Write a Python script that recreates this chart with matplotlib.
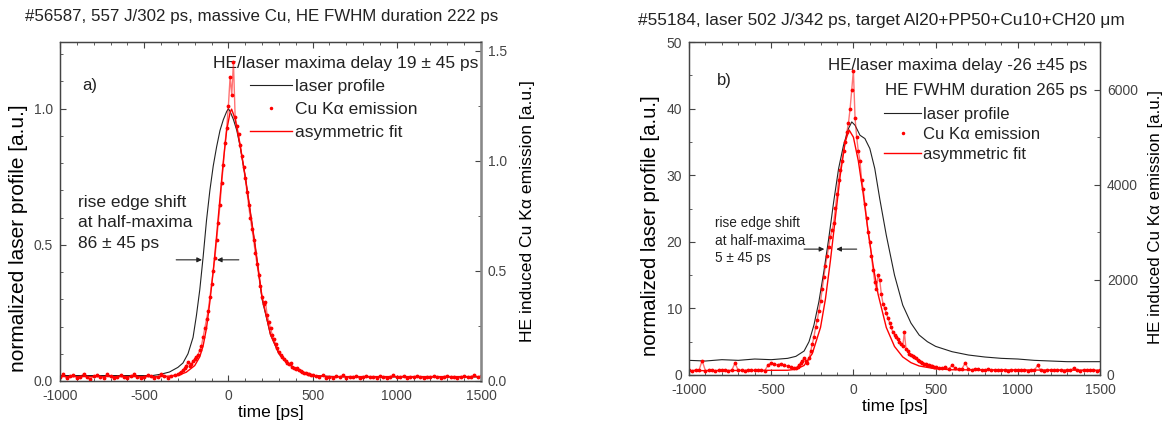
import matplotlib as mpl
mpl.use('Agg')
import matplotlib.pyplot as plt
from matplotlib.lines import Line2D
import numpy as np

plt.rcParams['font.family'] = ['Liberation Sans', 'DejaVu Sans']
plt.rcParams['text.color'] = '#222222'
plt.rcParams['axes.unicode_minus'] = False

# ---------------- panel a) #56587 ----------------
# laser profile (normalized, left axis)
tLaserA = [-1000, -900, -800, -700, -600, -500, -450, -400, -350, -300, -270, -240, -210, -190,
           -170, -150, -130, -110, -90, -70, -50, -30, -10, 0, 10, 30, 50, 70, 100, 130, 160,
           200, 250, 300, 350, 400, 450, 500, 600, 700, 800, 900, 1000, 1100, 1200, 1300, 1400, 1500]
laserA = [0.02, 0.02, 0.02, 0.02, 0.02, 0.02, 0.02, 0.025, 0.033, 0.05, 0.066, 0.10, 0.16, 0.24,
          0.335, 0.456, 0.59, 0.70, 0.79, 0.86, 0.92, 0.96, 0.99, 1.0, 0.99, 0.96, 0.92, 0.86, 0.75,
          0.62, 0.49, 0.30, 0.17, 0.10, 0.065, 0.045, 0.03, 0.02, 0.017, 0.015, 0.015, 0.015, 0.015,
          0.015, 0.015, 0.015, 0.015, 0.015]

# Cu K-alpha emission (right axis), sampled every 20 ps outside / 10 ps inside the pulse
cuA_left = [0.020, 0.030, 0.012, 0.022, 0.028, 0.015, 0.020, 0.032, 0.018, 0.010,
            0.022, 0.026, 0.020, 0.014, 0.030, 0.022, 0.012, 0.020, 0.026, 0.018,
            0.015, 0.022, 0.030, 0.020, 0.014, 0.020, 0.026, 0.022, 0.012, 0.020,
            0.030, 0.024, 0.015, 0.022, 0.028]
cuA_mid = [0.030, 0.035, 0.040, 0.050, 0.060, 0.070, 0.085, 0.070, 0.075, 0.090,
           0.100, 0.110, 0.120, 0.140, 0.160, 0.200, 0.240, 0.280, 0.320, 0.380,
           0.440, 0.500, 0.560, 0.640, 0.720, 0.800, 0.900, 0.980, 1.080, 1.150,
           1.250, 1.380, 1.300, 1.450, 1.200, 1.160, 1.120, 1.070, 1.020, 0.970,
           0.920, 0.860, 0.800, 0.740, 0.690, 0.640, 0.580, 0.530, 0.480, 0.430,
           0.380, 0.350, 0.360, 0.300, 0.270, 0.240, 0.210, 0.190, 0.170, 0.150,
           0.130, 0.120, 0.110, 0.100, 0.090, 0.080, 0.075, 0.080, 0.065, 0.060,
           0.055, 0.060, 0.050, 0.045, 0.040, 0.035, 0.035, 0.030, 0.030, 0.025,
           0.025]
cuA_right = [0.022, 0.018, 0.025, 0.015, 0.020, 0.012, 0.022, 0.018, 0.026, 0.015,
             0.020, 0.016, 0.022, 0.012, 0.018, 0.024, 0.016, 0.020, 0.014, 0.022,
             0.018, 0.012, 0.020, 0.025, 0.016, 0.018, 0.022, 0.014, 0.020, 0.016,
             0.024, 0.018, 0.012, 0.020, 0.016, 0.022, 0.018, 0.014, 0.020, 0.024,
             0.016, 0.020, 0.012, 0.018, 0.022, 0.016, 0.020, 0.026, 0.018, 0.022]

# asymmetric fit (right axis)
tFitA = [-1000, -400, -300, -250, -200, -170, -150, -130, -110, -90, -70, -50, -30, -10, 10, 19,
         40, 70, 100, 130, 160, 200, 250, 300, 350, 400, 450, 500, 600, 1500]
fitA = [0.02, 0.02, 0.025, 0.04, 0.07, 0.11, 0.16, 0.24, 0.36, 0.50, 0.66, 0.83, 1.00, 1.14, 1.22,
        1.235, 1.19, 1.07, 0.93, 0.77, 0.61, 0.38, 0.21, 0.125, 0.08, 0.055, 0.035, 0.025, 0.02, 0.02]

# ---------------- panel b) #55184 ----------------
tLaserB = [-1000, -900, -800, -700, -600, -500, -400, -350, -300, -270, -240, -210, -180, -150,
           -120, -90, -60, -30, -10, 10, 40, 70, 100, 130, 160, 200, 250, 300, 350, 400, 450, 500,
           600, 700, 800, 900, 1000, 1100, 1200, 1300, 1400, 1500]
laserB = [2.2, 2.1, 2.3, 2.2, 2.4, 2.3, 2.5, 2.8, 3.6, 5, 7.5, 11, 15.5, 20.5,
          26, 31, 34.5, 37, 38, 37.5, 36, 35.5, 34, 31, 26.5, 21, 15, 10.5, 7.8, 6, 5, 4.3,
          3.5, 3, 2.7, 2.5, 2.4, 2.2, 2.1, 2.0, 2.0, 2.0]

cuB_left = [100, 90, 110, 95, 300, 90, 100, 105, 85, 100,
            95, 110, 90, 100, 250, 95, 100, 90, 105, 100,
            95, 110, 100, 90, 200, 260, 230, 210, 240, 200,
            190, 170, 150]
cuB_mid = [150, 160, 200, 250, 300, 350, 300, 250, 350, 500,
           650, 800, 1000, 1150, 1350, 1550, 1800, 2050, 2300, 2500,
           2700, 2900, 3050, 3200, 3500, 3800, 4100, 4300, 4500, 4700,
           4900, 5100, 5300, 5600, 6000, 6400, 5400, 5000, 4700, 4500,
           4100, 3900, 3600, 3300, 3000, 2800, 2500, 2200, 1950, 1800,
           2100, 2000, 1700, 1500, 1400, 1300, 1200, 1100, 1000, 900,
           850, 800, 750, 700, 650, 600, 900, 550, 500, 450,
           420, 400, 380, 350, 320, 300, 280, 260, 240, 230,
           220, 200, 190, 180, 170, 160]
cuB_right = [150, 140, 160, 130, 200, 140, 120, 130, 250, 120,
             110, 130, 120, 100, 110, 120, 100, 110, 95, 100,
             110, 90, 100, 105, 95, 100, 110, 90, 100, 95,
             200, 100, 90, 105, 100, 95, 110, 100, 90, 100,
             95, 150, 100, 90, 105, 100, 95, 100, 90, 100]

tFitB = [-1000, -400, -350, -300, -250, -200, -170, -140, -110, -80, -50, -26, 0, 30, 60, 90,
         120, 150, 200, 250, 300, 350, 400, 500, 600, 1500]
fitB = [90, 100, 120, 200, 450, 1000, 1600, 2400, 3300, 4200, 4900, 5150, 5000, 4500, 3800, 3000,
        2300, 1700, 1000, 600, 380, 260, 190, 130, 110, 100]

# sampling grid of the K-alpha streak data
tCuA = np.concatenate([np.arange(-1000, -319, 20), np.arange(-300, 501, 10), np.arange(520, 1501, 20)])
tCuB = np.concatenate([np.arange(-1000, -359, 20), np.arange(-350, 501, 10), np.arange(520, 1501, 20)])
cuA = cuA_left + cuA_mid + cuA_right
cuB = cuB_left + cuB_mid + cuB_right

W, H = 1167, 425
fig = plt.figure(figsize=(W / 100, H / 100), dpi=100)
labels = ['laser profile', 'Cu K\u03b1 emission', 'asymmetric fit']


def setup(ax, axr, ylim, yr_lim, ymaj, ymin, yrmaj, yrmin):
    ax.set_xlim(-1000, 1500)
    ax.set_ylim(*ylim)
    axr.set_ylim(*yr_lim)
    ax.xaxis.set_major_locator(mpl.ticker.MultipleLocator(500))
    ax.xaxis.set_minor_locator(mpl.ticker.MultipleLocator(100))
    ax.yaxis.set_major_locator(mpl.ticker.MultipleLocator(ymaj))
    ax.yaxis.set_minor_locator(mpl.ticker.MultipleLocator(ymin))
    axr.yaxis.set_major_locator(mpl.ticker.MultipleLocator(yrmaj))
    axr.yaxis.set_minor_locator(mpl.ticker.MultipleLocator(yrmin))
    ax.tick_params(axis='x', which='both', direction='in', top=True, labelsize=10,
                   colors='#444444', pad=6)
    ax.tick_params(axis='y', which='both', direction='in', right=False, labelsize=10,
                   colors='#444444', pad=5)
    axr.tick_params(axis='y', which='both', direction='in', labelsize=10, colors='#444444', pad=5)
    for a in (ax, axr):
        a.tick_params(which='major', length=4)
        a.tick_params(which='minor', length=2)
        for s in a.spines.values():
            s.set_color('#444444')
            s.set_linewidth(0.9)
    ax.set_xlabel('time [ps]', fontsize=12.5, labelpad=1)
    ax.set_ylabel('normalized laser profile [a.u.]', fontsize=15)
    axr.set_ylabel('HE induced Cu K\u03b1 emission [a.u.]', fontsize=12.6)


def handles():
    return [Line2D([], [], color='#222222', lw=0.8),
            Line2D([], [], ls='none', marker='.', color='red', ms=3),
            Line2D([], [], color='red', lw=1.0)]


arrow = dict(arrowstyle='-|>', color='#222222', lw=0.8, mutation_scale=7, shrinkA=0, shrinkB=0)

# ---- panel a
ax1 = fig.add_axes([60 / W, 1 - 381 / H, 421 / W, 339 / H])
ax1r = ax1.twinx()
setup(ax1, ax1r, (0, 1.245), (0, 1.54), 0.5, 0.1, 0.5, 0.25)
ax1.yaxis.set_label_coords(-0.076, 0.422)
ax1r.yaxis.set_label_coords(1.093, 0.50)
ax1.yaxis.set_major_formatter(mpl.ticker.FormatStrFormatter('%.1f'))
ax1r.yaxis.set_major_formatter(mpl.ticker.FormatStrFormatter('%.1f'))
ax1r.spines['right'].set_color('#888888')
ax1r.spines['right'].set_linewidth(1.8)
ax1.plot(tLaserA, laserA, color='#222222', lw=0.8)
ax1r.plot(tCuA, cuA, color='red', lw=1.0, alpha=0.55)
ax1r.plot(tCuA, cuA, '.', color='red', ms=3.5)
ax1r.plot(tFitA, fitA, color='red', lw=1.0)

ax1.text(0.053, 0.873, 'a)', transform=ax1.transAxes, fontsize=12, va='center')
ax1.text(0.993, 0.937, 'HE/laser maxima delay 19 \u00b1 45 ps', transform=ax1.transAxes,
         ha='right', va='center', fontsize=12.5)
ax1.text(-895, 0.683, 'rise edge shift\nat half-maxima\n86 \u00b1 45 ps', fontsize=12.5,
         va='top', linespacing=1.45)
ax1.annotate('', xy=(-157, 0.445), xytext=(-310, 0.445), arrowprops=arrow)
ax1.annotate('', xy=(-68, 0.445), xytext=(62, 0.445), arrowprops=arrow)

ax1r.legend(handles(), labels, loc='upper left', bbox_to_anchor=(0.452, 0.89), frameon=False,
            fontsize=12.5, handlelength=2.4, handletextpad=0.15, labelspacing=0.43, borderpad=0,
            borderaxespad=0)

fig.text(25 / W, 1 - 16 / H, '#56587, 557 J/302 ps, massive Cu, HE FWHM duration 222 ps',
         fontsize=12.2, va='center', ha='left')

# ---- panel b
ax2 = fig.add_axes([689 / W, 1 - 375 / H, 411 / W, 333 / H])
ax2r = ax2.twinx()
setup(ax2, ax2r, (0, 50), (0, 7000), 10, 5, 2000, 1000)
ax2.yaxis.set_label_coords(-0.0706, 0.45)
ax2r.yaxis.set_label_coords(1.117, 0.474)
ax2.yaxis.label.set_fontsize(14.6)
ax2r.yaxis.label.set_fontsize(12.2)
ax2.plot(tLaserB, laserB, color='#222222', lw=0.8)
ax2r.plot(tCuB, cuB, color='red', lw=1.0, alpha=0.55)
ax2r.plot(tCuB, cuB, '.', color='red', ms=3.5)
ax2r.plot(tFitB, fitB, color='red', lw=1.0)

ax2.text(0.068, 0.885, 'b)', transform=ax2.transAxes, fontsize=12, va='center')
ax2.text(0.97, 0.93, 'HE/laser maxima delay -26 \u00b145 ps', transform=ax2.transAxes,
         ha='right', va='center', fontsize=12.2)
ax2.text(0.97, 0.855, 'HE FWHM duration 265 ps', transform=ax2.transAxes,
         ha='right', va='center', fontsize=12.2)
ax2.text(-840, 23.8, 'rise edge shift\nat half-maxima\n5 \u00b1 45 ps', fontsize=9.8,
         va='top', linespacing=1.3)
ax2.annotate('', xy=(-177, 18.9), xytext=(-300, 18.9), arrowprops=arrow)
ax2.annotate('', xy=(-104, 18.9), xytext=(20, 18.9), arrowprops=arrow)

ax2r.legend(handles(), labels, loc='upper left', bbox_to_anchor=(0.475, 0.806), frameon=False,
            fontsize=12, handlelength=2.2, handletextpad=0.15, labelspacing=0.3, borderpad=0,
            borderaxespad=0)

fig.text(638 / W, 1 - 20 / H, '#55184, laser 502 J/342 ps, target Al20+PP50+Cu10+CH20 \u03bcm',
         fontsize=12.4, va='center', ha='left')

fig.savefig('out.png', dpi=100)
